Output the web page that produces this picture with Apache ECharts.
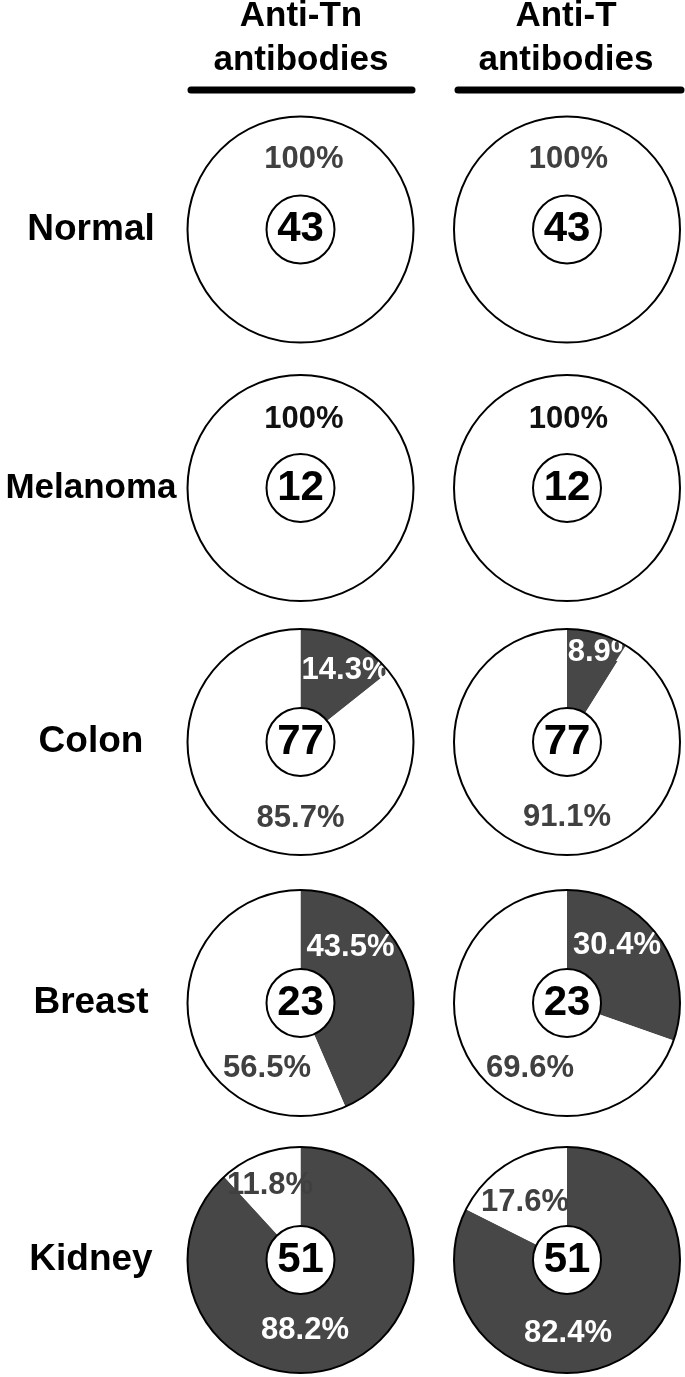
<!DOCTYPE html>
<html><head><meta charset="utf-8">
<script src="https://cdn.jsdelivr.net/npm/echarts@6/dist/echarts.min.js"></script>
<style>html,body{margin:0;padding:0;background:#fff}#c{width:685px;height:1377px}</style>
</head><body><div id="c"></div>
<script>
// ---- data ----
const rows = ['Normal', 'Melanoma', 'Colon', 'Breast', 'Kidney'];
const columns = ['Anti-Tn\nantibodies', 'Anti-T\nantibodies'];
const counts = [43, 12, 77, 23, 51];
const antiTnPositive = [0, 0, 14.3, 43.5, 88.2];
const antiTnNegative = [100, 100, 85.7, 56.5, 11.8];
const antiTPositive = [0, 0, 8.9, 30.4, 82.4];
const antiTNegative = [100, 100, 91.1, 69.6, 17.6];

// ---- layout / style ----
const FONT = 'Liberation Sans, Arial, Helvetica, sans-serif';
const colX = [300.5, 567];
const rowY = [229.5, 488, 742, 1003, 1260];
const R = 113, R0 = 34;
const DARK = '#474747';
const negLabelColors = ['#404040', '#111111', '#404040', '#404040', '#404040'];
const rowFontSizes = [37, 35, 37, 37, 37];
// [dx, dy] of labels relative to the pie centre: [column][row] -> [positive, negative]
const labelOffsets = [
  [[null, [3.5, -70]], [null, [3.5, -69]], [[45, -72], [0, 76]], [[50, -56], [-33.5, 65]], [[4.5, 70]  , [-30.5, -75]]],
  [[null, [1.5, -70]], [null, [1.5, -69]], [[36, -90], [0, 75]], [[50, -58], [-37, 65]],   [[1, 73],    [-42, -58]]]
];

const positives = [antiTnPositive, antiTPositive];
const negatives = [antiTnNegative, antiTNegative];

const series = [];
for (let c = 0; c < 2; c++) {
  for (let i = 0; i < rows.length; i++) {
    const cx = colX[c], cy = rowY[i];
    const offs = labelOffsets[c][i];
    series.push({
      type: 'pie', silent: true, z: 1,
      center: [cx, cy], radius: [0, R],
      startAngle: 90, clockwise: true, avoidLabelOverlap: false,
      label: { show: true, position: 'inside', formatter: '{c}%', fontSize: 31, fontWeight: 'bold', fontFamily: FONT },
      labelLine: { show: false },
      labelLayout: function (p) {
        const o = offs[p.dataIndex] || [0, 0];
        return { x: cx + o[0], y: cy + o[1], align: 'center', verticalAlign: 'middle' };
      },
      data: [
        { value: positives[c][i], name: 'Positive', itemStyle: { color: DARK },
          label: { show: positives[c][i] > 0, color: '#ffffff' } },
        { value: negatives[c][i], name: 'Negative', itemStyle: { color: '#ffffff' },
          label: { show: negatives[c][i] > 0, color: negLabelColors[i] } }
      ]
    });
    // outline
    series.push({
      type: 'pie', silent: true, z: 2,
      center: [cx, cy], radius: [0, R],
      label: { show: false }, labelLine: { show: false },
      itemStyle: { color: 'rgba(0,0,0,0)', borderColor: '#000', borderWidth: 2 },
      data: [{ value: 1, name: 'outline' }]
    });
    // centre circle with count
    series.push({
      type: 'pie', silent: true, z: 3,
      center: [cx, cy], radius: [0, R0],
      itemStyle: { color: '#ffffff', borderColor: '#000', borderWidth: 2 },
      label: { show: true, position: 'center', formatter: '{c}', fontSize: 42, fontWeight: 'bold', color: '#000', fontFamily: FONT },
      labelLine: { show: false },
      data: [{ value: counts[i], name: rows[i] }]
    });
  }
}

const graphic = [];
const headerX = [301, 566];
const lineX = [[191, 412], [458, 681]];
for (let c = 0; c < 2; c++) {
  graphic.push({
    type: 'text', x: headerX[c], y: 38, silent: true,
    style: { text: columns[c], font: 'bold 35px ' + FONT, fill: '#000', align: 'center', verticalAlign: 'middle', textAlign: 'center', textVerticalAlign: 'middle', lineHeight: 44 }
  });
  graphic.push({
    type: 'line', silent: true,
    shape: { x1: lineX[c][0], y1: 90, x2: lineX[c][1], y2: 90 },
    style: { stroke: '#000', lineWidth: 7, lineCap: 'round' }
  });
}
for (let i = 0; i < rows.length; i++) {
  graphic.push({
    type: 'text', x: 91, y: rowY[i], silent: true,
    style: { text: rows[i], font: 'bold ' + rowFontSizes[i] + 'px ' + FONT, fill: '#000', align: 'center', verticalAlign: 'middle', textAlign: 'center', textVerticalAlign: 'middle' }
  });
}

const chart = echarts.init(document.getElementById('c'), null, { renderer: 'canvas' });
chart.setOption({ animation: false, backgroundColor: '#ffffff', series: series, graphic: graphic });
</script>
</body></html>
